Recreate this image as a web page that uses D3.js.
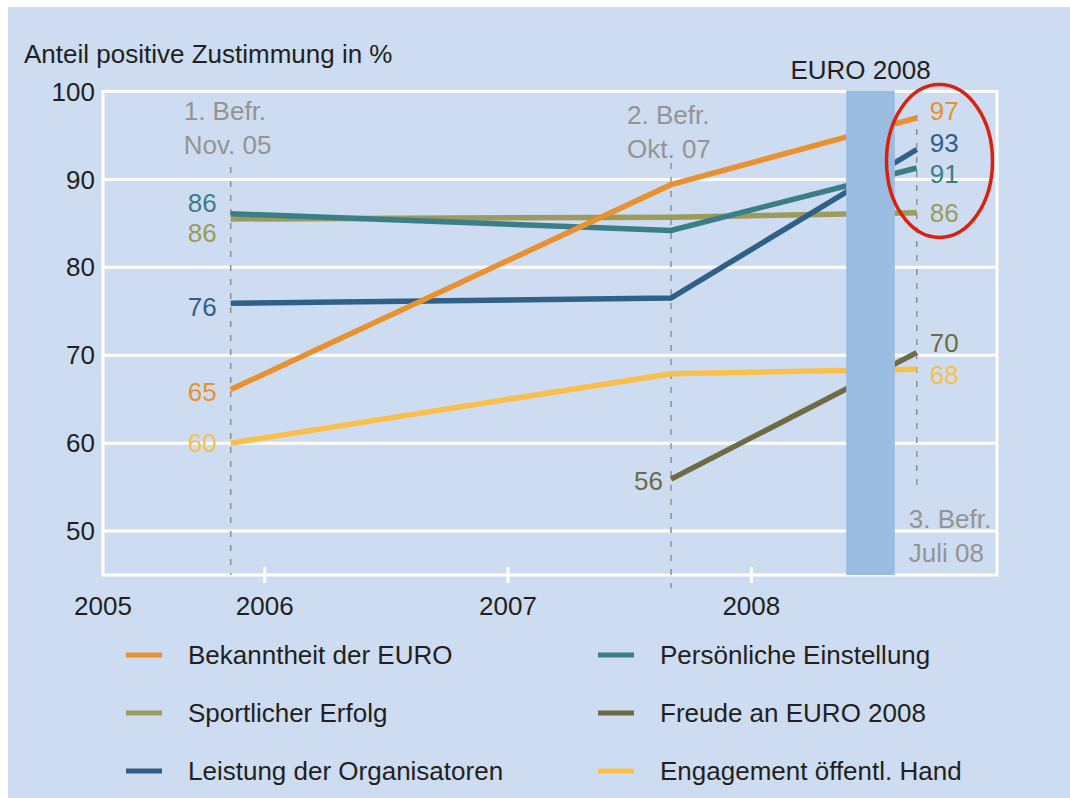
<!DOCTYPE html>
<html>
<head>
<meta charset="utf-8">
<script src="https://cdn.jsdelivr.net/npm/d3@7"></script>
<style>
  body { margin: 0; background: #ffffff; }
  text { font-family: "Liberation Sans", Arial, sans-serif; }
</style>
</head>
<body>
<script>
// DATA
var seriesNames = ["Sportlicher Erfolg", "Persönliche Einstellung", "Leistung der Organisatoren",
                   "Bekanntheit der EURO", "Engagement öffentl. Hand", "Freude an EURO 2008"];
var seriesColors = ["#9d9b5c", "#3b7e88", "#2f6088", "#e9912f", "#f9bf4a", "#6e6b45"];
var surveyTimes = [2005.86, 2007.67, 2008.68];   // 1. Befr. Nov 05, 2. Befr. Okt 07, 3. Befr. Juli 08
var surveyLines1 = ["1. Befr.", "2. Befr.", "3. Befr."];
var surveyLines2 = ["Nov. 05", "Okt. 07", "Juli 08"];
var sportlich     = [85.5, 85.7, 86.2];
var einstellung   = [86.1, 84.2, 91.3];
var organisatoren = [75.9, 76.5, 93.4];
var bekanntheit   = [66.1, 89.4, 97.0];
var engagement    = [60.0, 67.9, 68.4];
var freude        = [null, 55.9, 70.3];
var startLabels = [86, 86, 76, 65, 60, 56];
var endLabels   = [86, 91, 93, 97, 68, 70];
var yearTicks = [2006, 2007, 2008];
var firstYearLabel = 2005;
var yTicks = [50, 60, 70, 80, 90, 100];
var euroStart = 2008.39, euroEnd = 2008.59;

// legend order (two columns, three rows)
var legendOrder = [3, 1, 0, 5, 2, 4];

// label nudges in px (layout only)
var startShift = [14, -11, 4, 2, 0, 2];
var endShift   = [0, 6, -7, -7, 6, -10];

var W = 1070, H = 798;
var fs = 26;
var svg = d3.select("body").append("svg")
  .attr("width", W)
  .attr("height", H);

svg.append("rect")
  .attr("x", 8).attr("y", 7)
  .attr("width", W - 8).attr("height", H - 7)
  .attr("fill", "#cddcf0");

var pLeft = 103, pRight = 997, pTop = 91.5, pBottom = 575;

var x = d3.scaleLinear()
  .domain([2005.335, 2009.01])
  .range([pLeft, pRight]);
var y = d3.scaleLinear()
  .domain([45, 100])
  .range([pBottom, pTop]);

// GRID
svg.selectAll(".grid")
  .data(yTicks)
  .join("line")
  .attr("x1", pLeft).attr("x2", pRight)
  .attr("y1", function(d){ return y(d); })
  .attr("y2", function(d){ return y(d); })
  .attr("stroke", "#ffffff")
  .attr("stroke-width", 3);

// frame
svg.append("rect")
  .attr("x", pLeft).attr("y", pTop)
  .attr("width", pRight - pLeft).attr("height", pBottom - pTop)
  .attr("fill", "none")
  .attr("stroke", "#ffffff")
  .attr("stroke-width", 3);

// y labels
svg.selectAll(".ylab")
  .data(yTicks)
  .join("text")
  .attr("x", 95)
  .attr("y", function(d){ return y(d); })
  .attr("dy", "0.35em")
  .attr("text-anchor", "end")
  .attr("font-size", fs)
  .attr("fill", "#231f20")
  .text(function(d){ return d; });

// x ticks
svg.selectAll(".xtick")
  .data(yearTicks)
  .join("line")
  .attr("x1", function(d){ return x(d); })
  .attr("x2", function(d){ return x(d); })
  .attr("y1", pBottom - 8).attr("y2", pBottom + 8)
  .attr("stroke", "#ffffff")
  .attr("stroke-width", 3);

svg.selectAll(".xlab")
  .data(yearTicks)
  .join("text")
  .attr("x", function(d){ return x(d); })
  .attr("y", 615)
  .attr("text-anchor", "middle")
  .attr("font-size", fs)
  .attr("fill", "#231f20")
  .text(function(d){ return d; });

svg.append("text")
  .attr("x", x.range()[0])
  .attr("y", 615)
  .attr("text-anchor", "middle")
  .attr("font-size", fs)
  .attr("fill", "#231f20")
  .text(firstYearLabel);

// title
svg.append("text")
  .attr("x", 24).attr("y", 63)
  .attr("font-size", fs)
  .attr("fill", "#231f20")
  .text("Anteil positive Zustimmung in %");

// survey dashed lines (top / bottom in px)
var dashTop = [167, 163, 115];
var dashBottom = [575, 588, 492];
svg.selectAll(".survey")
  .data(surveyTimes)
  .join("line")
  .attr("x1", function(d){ return x(d); })
  .attr("x2", function(d){ return x(d); })
  .attr("y1", function(d, i){ return dashTop[i]; })
  .attr("y2", function(d, i){ return dashBottom[i]; })
  .attr("stroke", "#8f8f8f")
  .attr("stroke-width", 1.5)
  .attr("stroke-dasharray", "6,8");

// survey annotations
var annX = [x(surveyTimes[0]) - 47, x(surveyTimes[1]) - 44, x(surveyTimes[2]) - 8];
var annY = [120, 124, 528];
surveyTimes.forEach(function(t, i){
  var g = svg.append("text")
    .attr("x", annX[i]).attr("y", annY[i])
    .attr("font-size", fs)
    .attr("fill", "#949494");
  g.append("tspan").attr("x", annX[i]).text(surveyLines1[i]);
  g.append("tspan").attr("x", annX[i]).attr("dy", 34).text(surveyLines2[i]);
});

// LINES
var allSeries = [sportlich, einstellung, organisatoren, bekanntheit, engagement, freude];
var line = d3.line()
  .defined(function(d){ return d != null; })
  .x(function(d, i){ return x(surveyTimes[i]); })
  .y(function(d){ return y(d); });

svg.selectAll(".series")
  .data(allSeries)
  .join("path")
  .attr("d", function(d){ return line(d); })
  .attr("fill", "none")
  .attr("stroke", function(d, i){ return seriesColors[i]; })
  .attr("stroke-width", 5.5)
  .attr("stroke-linejoin", "miter");

// EURO 2008 bar
svg.append("rect")
  .attr("x", x(euroStart)).attr("y", pTop - 1)
  .attr("width", x(euroEnd) - x(euroStart))
  .attr("height", pBottom - pTop + 1)
  .attr("fill", "#9abce1");

svg.append("text")
  .attr("x", (x(euroStart) + x(euroEnd)) / 2 - 10)
  .attr("y", 79)
  .attr("text-anchor", "middle")
  .attr("font-size", fs)
  .attr("fill", "#231f20")
  .text("EURO 2008");

// value labels
allSeries.forEach(function(s, i){
  var first = s[0] != null ? 0 : 1;
  svg.append("text")
    .attr("x", x(surveyTimes[first]) - (first == 0 ? 14 : 8))
    .attr("y", y(s[first]) + startShift[i])
    .attr("dy", "0.35em")
    .attr("text-anchor", "end")
    .attr("font-size", fs)
    .attr("fill", seriesColors[i])
    .text(startLabels[i]);
  svg.append("text")
    .attr("x", x(surveyTimes[2]) + 13)
    .attr("y", y(s[2]) + endShift[i])
    .attr("dy", "0.35em")
    .attr("font-size", fs)
    .attr("fill", seriesColors[i])
    .text(endLabels[i]);
});

// red ellipse
svg.append("ellipse")
  .attr("cx", 939.5).attr("cy", 161)
  .attr("rx", 53).attr("ry", 76.5)
  .attr("fill", "none")
  .attr("stroke", "#d9210f")
  .attr("stroke-width", 3.5);

// LEGEND
var legX = [126, 598], legY = [655, 713, 771];
legendOrder.forEach(function(si, k){
  var col = k % 2, row = Math.floor(k / 2);
  svg.append("line")
    .attr("x1", legX[col]).attr("x2", legX[col] + 36)
    .attr("y1", legY[row]).attr("y2", legY[row])
    .attr("stroke", seriesColors[si])
    .attr("stroke-width", 5);
  svg.append("text")
    .attr("x", legX[col] + 62)
    .attr("y", legY[row])
    .attr("dy", "0.35em")
    .attr("font-size", fs)
    .attr("fill", "#231f20")
    .text(seriesNames[si]);
});
</script>
</body>
</html>
